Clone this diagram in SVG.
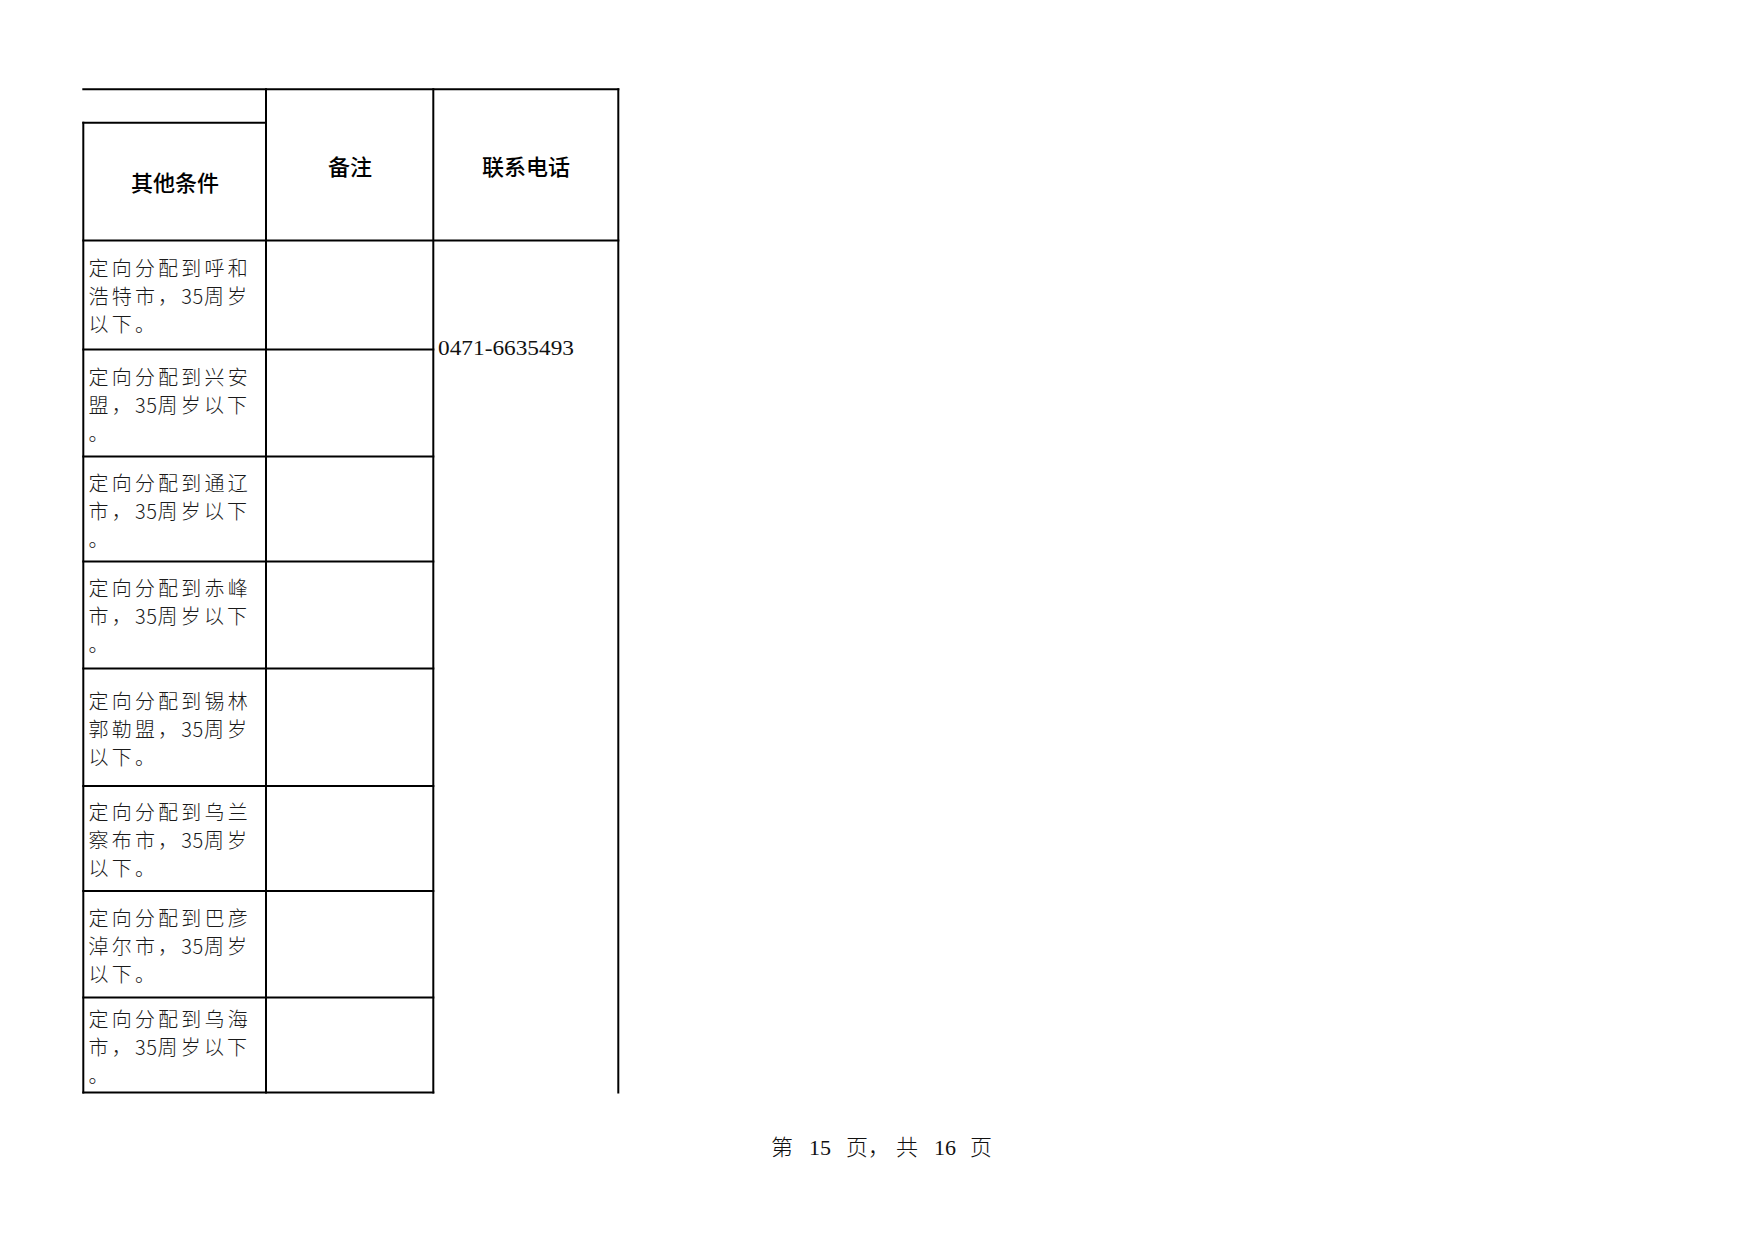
<svg xmlns="http://www.w3.org/2000/svg" width="1754" height="1240" viewBox="0 0 1754 1240">
<style>
.g line{stroke:#000;stroke-width:2;stroke-linecap:square}
.h{font-family:"Noto Sans CJK SC","Noto Sans",sans-serif;font-size:22px;font-weight:500;fill:#000;text-anchor:middle}
.b{font-family:"Noto Sans CJK SC","Noto Sans",sans-serif;font-size:20px;font-weight:300;fill:#1a1a1a;letter-spacing:3.2px}
.d{letter-spacing:0.6px}
.p{font-family:"Liberation Serif","Noto Sans CJK SC",serif;font-size:22px;fill:#111}
.pc{font-family:"Noto Sans CJK SC",sans-serif;font-size:22px;font-weight:300;fill:#111}
</style>
<rect width="1754" height="1240" fill="#fff"/>
<g id="grid" class="g">
<line x1="83.3" y1="89.3" x2="618.3" y2="89.3"/>
<line x1="83.3" y1="122.7" x2="266" y2="122.7"/>
<line x1="83.3" y1="122.7" x2="83.3" y2="1092.5"/>
<line x1="266" y1="89.3" x2="266" y2="1092.5"/>
<line x1="433.3" y1="89.3" x2="433.3" y2="1092.5"/>
<line x1="618.3" y1="89.3" x2="618.3" y2="1092.5"/>
<line x1="83.3" y1="240.5" x2="618.3" y2="240.5"/>
<line x1="83.3" y1="349.5" x2="433.3" y2="349.5"/>
<line x1="83.3" y1="456.5" x2="433.3" y2="456.5"/>
<line x1="83.3" y1="561.5" x2="433.3" y2="561.5"/>
<line x1="83.3" y1="668.5" x2="433.3" y2="668.5"/>
<line x1="83.3" y1="786" x2="433.3" y2="786"/>
<line x1="83.3" y1="891" x2="433.3" y2="891"/>
<line x1="83.3" y1="997.5" x2="433.3" y2="997.5"/>
<line x1="83.3" y1="1092.5" x2="433.3" y2="1092.5"/>
</g>
<g id="header">
<text class="h" x="175" y="190.5">其他条件</text>
<text class="h" x="350" y="174.5">备注</text>
<text class="h" x="526" y="174.5">联系电话</text>
</g>
<g id="row1"><text class="b"><tspan x="88.5" y="276">定向分配到呼和</tspan><tspan x="88.5" y="304">浩特市，<tspan class="d">35</tspan>周岁</tspan><tspan x="88.5" y="332">以下。</tspan></text></g>
<g id="row2"><text class="b"><tspan x="88.5" y="384.5">定向分配到兴安</tspan><tspan x="88.5" y="412.5">盟，<tspan class="d">35</tspan>周岁以下</tspan><tspan x="88.5" y="440.5">。</tspan></text></g>
<g id="row3"><text class="b"><tspan x="88.5" y="490.5">定向分配到通辽</tspan><tspan x="88.5" y="518.5">市，<tspan class="d">35</tspan>周岁以下</tspan><tspan x="88.5" y="546.5">。</tspan></text></g>
<g id="row4"><text class="b"><tspan x="88.5" y="596">定向分配到赤峰</tspan><tspan x="88.5" y="624">市，<tspan class="d">35</tspan>周岁以下</tspan><tspan x="88.5" y="652">。</tspan></text></g>
<g id="row5"><text class="b"><tspan x="88.5" y="709">定向分配到锡林</tspan><tspan x="88.5" y="737">郭勒盟，<tspan class="d">35</tspan>周岁</tspan><tspan x="88.5" y="765">以下。</tspan></text></g>
<g id="row6"><text class="b"><tspan x="88.5" y="819.5">定向分配到乌兰</tspan><tspan x="88.5" y="847.5">察布市，<tspan class="d">35</tspan>周岁</tspan><tspan x="88.5" y="875.5">以下。</tspan></text></g>
<g id="row7"><text class="b"><tspan x="88.5" y="926">定向分配到巴彦</tspan><tspan x="88.5" y="954">淖尔市，<tspan class="d">35</tspan>周岁</tspan><tspan x="88.5" y="982">以下。</tspan></text></g>
<g id="row8"><text class="b"><tspan x="88.5" y="1027">定向分配到乌海</tspan><tspan x="88.5" y="1055">市，<tspan class="d">35</tspan>周岁以下</tspan><tspan x="88.5" y="1083">。</tspan></text></g>
<g id="phone"><text class="p" x="438" y="355" textLength="136" lengthAdjust="spacingAndGlyphs">0471-6635493</text></g>
<g id="footer">
<text class="pc" x="771" y="1155">第</text>
<text class="p" x="809" y="1155">15</text>
<text class="pc" x="846" y="1155">页，</text>
<text class="pc" x="896" y="1155">共</text>
<text class="p" x="934" y="1155">16</text>
<text class="pc" x="970" y="1155">页</text>
</g>
</svg>
